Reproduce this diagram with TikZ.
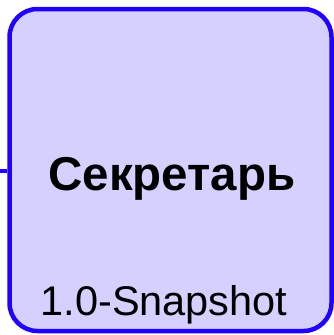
\documentclass[tikz,border=0pt]{standalone}
\usepackage{fontspec}
\setmainfont{Liberation Sans}
\definecolor{boxfill}{RGB}{212,208,255}
\definecolor{boxline}{RGB}{32,0,255}
\tikzset{
  comp/.style={draw=boxline, fill=boxfill, line width=4.5pt, rounded corners=28pt, minimum width=322pt, minimum height=322pt, inner sep=0pt},
  title/.style={font=\fontsize{47.5}{52}\selectfont\bfseries, anchor=base, inner sep=0pt},
  ver/.style={font=\fontsize{41.5}{46}\selectfont, anchor=base, inner sep=0pt},
  stub/.style={draw=boxline, line width=3.5pt}
}
\begin{document}
\begin{tikzpicture}[x=1pt,y=-1pt]
\useasboundingbox (0,0) rectangle (334,335);
\node[comp] (box) at (170.5,170) {};
\coordinate (free) at (0,171);
\draw[stub] (free) -- (box.west |- free);
\node[title] (name) at (172,190) {Секретарь};
\node[ver] (version) at (164,315) {1.0-Snapshot};
\end{tikzpicture}
\end{document}
